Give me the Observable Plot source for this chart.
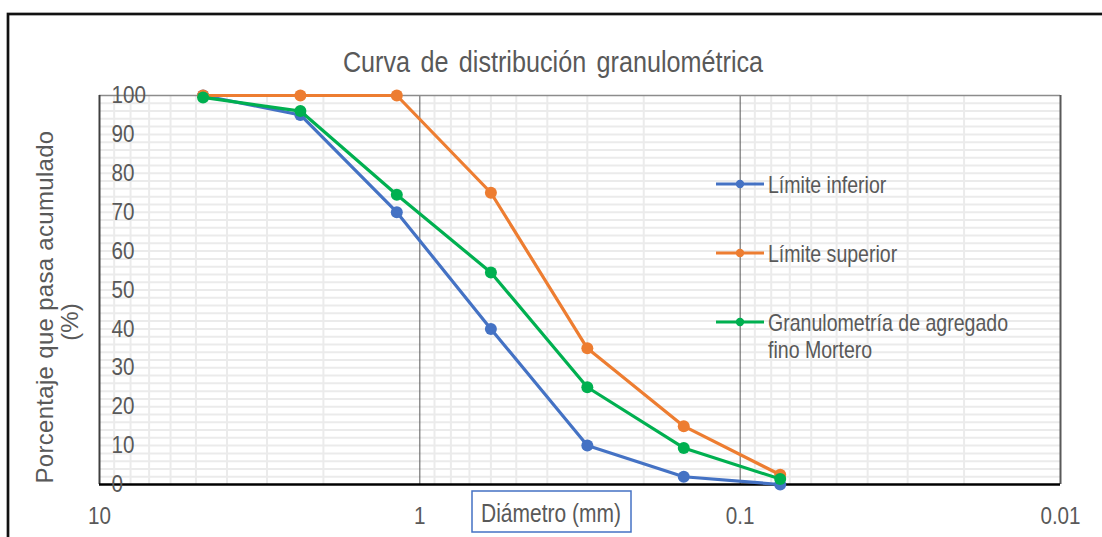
<!DOCTYPE html>
<html><head><meta charset="utf-8">
<script src="https://cdn.jsdelivr.net/npm/d3@7"></script>
<script src="https://cdn.jsdelivr.net/npm/@observablehq/plot@0.6"></script>
<style>
html,body{margin:0;padding:0;background:#fff;}
#chart{position:relative;width:1102px;height:537px;overflow:hidden;}
</style></head><body><div id="chart"></div>
<script>
// ---- data ----
const sizes = [4.75, 2.36, 1.18, 0.6, 0.3, 0.15, 0.075];
const limiteInferior = [100, 95, 70, 40, 10, 2, 0];
const limiteSuperior = [100, 100, 100, 75, 35, 15, 2.5];
const granulometria = [99.5, 96, 74.5, 54.5, 25, 9.4, 1.4];
const seriesNames = ["Límite inferior", "Límite superior", "Granulometría de agregado fino Mortero"];
const legendLines = [["Límite inferior"], ["Límite superior"], ["Granulometría de agregado", "fino Mortero"]];
const seriesColors = ["#4472C4", "#ED7D31", "#00B050"];
const yTicks = [0, 10, 20, 30, 40, 50, 60, 70, 80, 90, 100];
const xTicks = [10, 1, 0.1, 0.01];
const xTickLabels = ["10", "1", "0.1", "0.01"];
const titleText = "Curva de distribución granulométrica";
const yTitle = ["Porcentaje que pasa acumulado", "(%)"];
const xTitle = "Diámetro (mm)";

const allSeries = [limiteInferior, limiteSuperior, granulometria];
const seriesRows = allSeries.map((vals, i) => vals.map((v, j) => ({serie: seriesNames[i], size: sizes[j], pct: v})));

const minorX = [];
for (const base of [1, 0.1, 0.01]) for (let k = 2; k <= 9; k++) minorX.push(+(base * k).toPrecision(3));
const minorY = d3.range(2, 100, 2);

const FONT = "'Liberation Sans',Arial,sans-serif";
const TXT = "#595959";
const SQ = 0.86; // horizontal squeeze of the narrow reference font

const seriesMarks = [];
seriesRows.forEach((rows, i) => {
  seriesMarks.push(Plot.line(rows, {x: "size", y: "pct", stroke: seriesColors[i], strokeWidth: 3.2}));
  seriesMarks.push(Plot.dot(rows, {x: "size", y: "pct", fill: seriesColors[i], r: 6}));
});

const plot = Plot.plot({
  width: 1102, height: 537,
  marginLeft: 99, marginRight: 42, marginTop: 95, marginBottom: 53,
  x: {type: "log", domain: [10, 0.01]},
  y: {domain: [0, 100]},
  style: {fontFamily: FONT, background: "#fff", color: TXT, overflow: "visible"},
  marks: [
    Plot.ruleY(minorY, {stroke: "#ebebeb", strokeWidth: 2}),
    Plot.ruleX(minorX, {stroke: "#ebebeb", strokeWidth: 2}),
    Plot.ruleX([1, 0.1], {stroke: "#595959", strokeWidth: 1}),
    Plot.ruleY([100], {stroke: "#8c8c8c", strokeWidth: 1.5}),
    Plot.ruleX([0.01], {stroke: "#595959", strokeWidth: 2}),
    Plot.ruleX([10], {stroke: "#404040", strokeWidth: 2}),
    Plot.ruleY([0], {stroke: "#000", strokeWidth: 2.5}),
    Plot.axisY(yTicks, {tickSize: 0, textAnchor: "start", dx: 21, fontSize: 24, fill: TXT, label: null}),
    Plot.axisX(xTicks, {tickSize: 0, tickPadding: 22, tickFormat: d => xTickLabels[xTicks.indexOf(d)], fontSize: 24, fill: TXT, label: null}),
    ...seriesMarks
  ]
});
document.getElementById("chart").appendChild(plot);

const svg = d3.select(plot);
// squeeze axis tick labels horizontally (narrow font look)
svg.selectAll("g[aria-label='y-axis tick label'] text, g[aria-label='x-axis tick label'] text").each(function () {
  const t = this.getAttribute("transform") || "";
  this.setAttribute("transform", t + ` scale(${SQ},1)`);
});

function addText(x, y, txt, size, scale, anchor, extra = {}) {
  const el = svg.append("text")
    .attr("transform", `translate(${x},${y}) scale(${scale},1)`)
    .attr("text-anchor", anchor)
    .attr("font-family", FONT).attr("font-size", size).attr("fill", TXT).text(txt);
  for (const k in extra) el.attr(k, extra[k]);
  return el;
}

// outer chart frame (cut by the picture edges)
svg.append("rect").attr("x", 8).attr("y", 14).attr("width", 1200).attr("height", 700)
  .attr("fill", "none").attr("stroke", "#111").attr("stroke-width", 2.7);

// title
addText(553, 72, titleText, 30, 0.84, "middle", {"word-spacing": 4});

// y title
svg.append("text").attr("transform", "translate(53,307) rotate(-90)").attr("text-anchor", "middle")
  .attr("font-family", FONT).attr("font-size", 24).attr("letter-spacing", 0.3).attr("fill", TXT).text(yTitle[0]);
svg.append("text").attr("transform", "translate(78,322) rotate(-90)").attr("text-anchor", "middle")
  .attr("font-family", FONT).attr("font-size", 24).attr("fill", TXT).text(yTitle[1]);

// x title box
svg.append("rect").attr("x", 472).attr("y", 491).attr("width", 159).attr("height", 41)
  .attr("fill", "#fff").attr("stroke", "#4472C4").attr("stroke-width", 1.5);
addText(551, 522, xTitle, 25, 0.84, "middle");

// legend
const legY = [184, 253, 322];
legendLines.forEach((lines, i) => {
  const g = svg.append("g");
  g.append("line").attr("x1", 716).attr("x2", 764).attr("y1", legY[i]).attr("y2", legY[i])
    .attr("stroke", seriesColors[i]).attr("stroke-width", 3.2);
  g.append("circle").attr("cx", 740).attr("cy", legY[i]).attr("r", 4.2).attr("fill", seriesColors[i]);
  lines.forEach((t, k) => addText(768, legY[i] + 9 + k * 27, t, 23, 0.85, "start"));
});
</script></body></html>
